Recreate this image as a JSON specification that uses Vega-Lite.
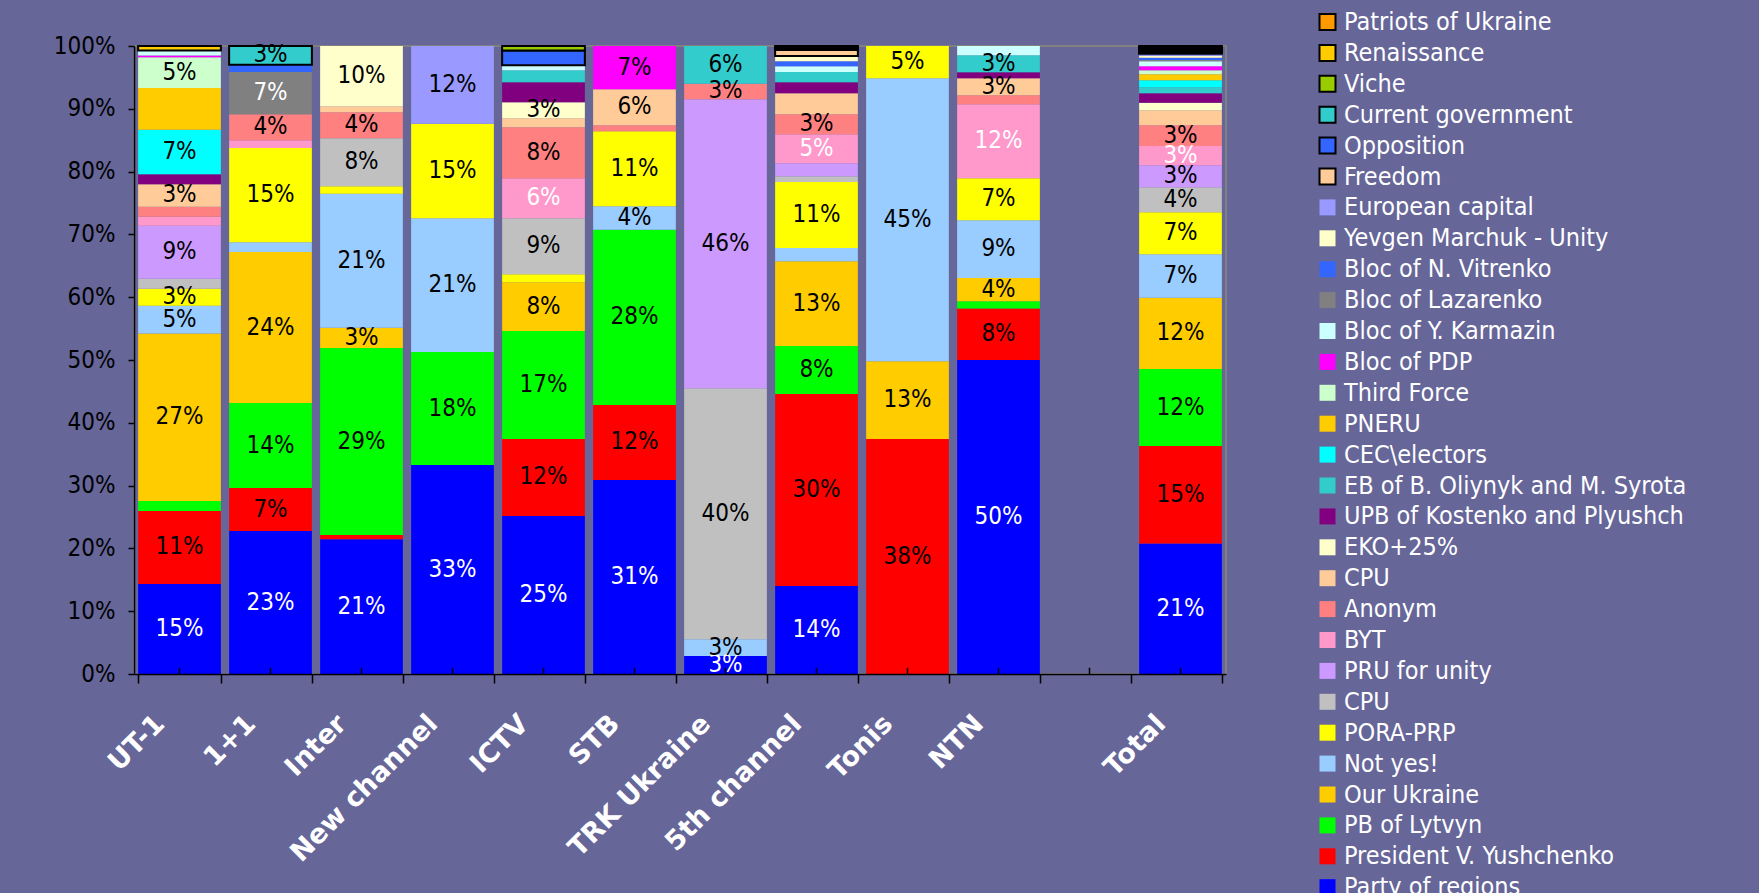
{
  "$schema": "https://vega.github.io/schema/vega-lite/v6.json",
  "autosize": "none",
  "width": 1092,
  "height": 628,
  "padding": {"left": 134, "top": 46, "right": 533, "bottom": 219},
  "background": "#666699",
  "config": {
    "view": {"stroke": "#808080", "strokeWidth": 2},
    "font": "DejaVu Sans Condensed, DejaVu Sans",
    "legend": {
      "labelColor": "white",
      "labelFontSize": 25,
      "labelFont": "DejaVu Sans Condensed, DejaVu Sans",
      "symbolType": "square",
      "symbolSize": 256,
      "symbolStrokeWidth": 2,
      "rowPadding": 4.9,
      "labelOffset": 4,
      "padding": 0,
      "labelLimit": 600
    }
  },
  "datasets": {
    "rows": [
      {"ch": "UT-1", "party": "Party of regions", "v": 14.33, "t": "15%"},
      {"ch": "UT-1", "party": "President V. Yushchenko", "v": 11.63, "t": "11%"},
      {"ch": "UT-1", "party": "PB of Lytvyn", "v": 1.59},
      {"ch": "UT-1", "party": "Our Ukraine", "v": 26.65, "t": "27%"},
      {"ch": "UT-1", "party": "Not yes!", "v": 4.45, "t": "5%"},
      {"ch": "UT-1", "party": "PORA-PRP", "v": 2.7, "t": "3%"},
      {"ch": "UT-1", "party": "CPU ", "v": 1.6},
      {"ch": "UT-1", "party": "PRU for unity", "v": 8.44, "t": "9%"},
      {"ch": "UT-1", "party": "BYT", "v": 1.44},
      {"ch": "UT-1", "party": "Anonym", "v": 1.59},
      {"ch": "UT-1", "party": "CPU", "v": 3.56, "t": "3%"},
      {"ch": "UT-1", "party": "UPB of Kostenko and Plyushch", "v": 1.59},
      {"ch": "UT-1", "party": "CEC\\electors", "v": 7.11, "t": "7%"},
      {"ch": "UT-1", "party": "PNERU", "v": 6.64},
      {"ch": "UT-1", "party": "Third Force", "v": 4.88, "t": "5%"},
      {"ch": "UT-1", "party": "Bloc of PDP", "v": 0.27},
      {"ch": "UT-1", "party": "Bloc of Y. Karmazin", "v": 0.8},
      {"ch": "UT-1", "party": "Renaissance", "v": 0.73},

      {"ch": "1+1", "party": "Party of regions", "v": 22.77, "t": "23%"},
      {"ch": "1+1", "party": "President V. Yushchenko", "v": 6.83, "t": "7%"},
      {"ch": "1+1", "party": "PB of Lytvyn", "v": 13.55, "t": "14%"},
      {"ch": "1+1", "party": "Our Ukraine", "v": 24.05, "t": "24%"},
      {"ch": "1+1", "party": "Not yes!", "v": 1.54},
      {"ch": "1+1", "party": "PORA-PRP", "v": 15.02, "t": "15%"},
      {"ch": "1+1", "party": "BYT", "v": 1.22},
      {"ch": "1+1", "party": "Anonym", "v": 4.14, "t": "4%"},
      {"ch": "1+1", "party": "Bloc of Lazarenko", "v": 6.74, "t": "7%"},
      {"ch": "1+1", "party": "Bloc of N. Vitrenko", "v": 1.17},
      {"ch": "1+1", "party": "Current government", "v": 2.97, "t": "3%"},

      {"ch": "Inter", "party": "Party of regions", "v": 21.45, "t": "21%"},
      {"ch": "Inter", "party": "President V. Yushchenko", "v": 0.68},
      {"ch": "Inter", "party": "PB of Lytvyn", "v": 29.77, "t": "29%"},
      {"ch": "Inter", "party": "Our Ukraine", "v": 3.25, "t": "3%"},
      {"ch": "Inter", "party": "Not yes!", "v": 21.34, "t": "21%"},
      {"ch": "Inter", "party": "PORA-PRP", "v": 1.16},
      {"ch": "Inter", "party": "CPU ", "v": 7.65, "t": "8%"},
      {"ch": "Inter", "party": "Anonym", "v": 4.14, "t": "4%"},
      {"ch": "Inter", "party": "CPU", "v": 0.96},
      {"ch": "Inter", "party": "Yevgen Marchuk - Unity", "v": 9.6, "t": "10%"},

      {"ch": "New channel", "party": "Party of regions", "v": 33.28, "t": "33%"},
      {"ch": "New channel", "party": "PB of Lytvyn", "v": 17.99, "t": "18%"},
      {"ch": "New channel", "party": "Not yes!", "v": 21.29, "t": "21%"},
      {"ch": "New channel", "party": "PORA-PRP", "v": 15.07, "t": "15%"},
      {"ch": "New channel", "party": "European capital", "v": 12.37, "t": "12%"},

      {"ch": "ICTV", "party": "Party of regions", "v": 25.16, "t": "25%"},
      {"ch": "ICTV", "party": "President V. Yushchenko", "v": 12.26, "t": "12%"},
      {"ch": "ICTV", "party": "PB of Lytvyn", "v": 17.2, "t": "17%"},
      {"ch": "ICTV", "party": "Our Ukraine", "v": 7.75, "t": "8%"},
      {"ch": "ICTV", "party": "PORA-PRP", "v": 1.27},
      {"ch": "ICTV", "party": "CPU ", "v": 8.92, "t": "9%"},
      {"ch": "ICTV", "party": "BYT", "v": 6.37, "t": "6%"},
      {"ch": "ICTV", "party": "Anonym", "v": 8.12, "t": "8%"},
      {"ch": "ICTV", "party": "CPU", "v": 1.43},
      {"ch": "ICTV", "party": "EKO+25%", "v": 2.55, "t": "3%"},
      {"ch": "ICTV", "party": "UPB of Kostenko and Plyushch", "v": 3.18},
      {"ch": "ICTV", "party": "EB of B. Oliynyk and M. Syrota", "v": 1.92},
      {"ch": "ICTV", "party": "Bloc of Y. Karmazin", "v": 0.79},
      {"ch": "ICTV", "party": "Opposition", "v": 2.38},
      {"ch": "ICTV", "party": "Viche", "v": 0.7},

      {"ch": "STB", "party": "Party of regions", "v": 30.9, "t": "31%"},
      {"ch": "STB", "party": "President V. Yushchenko", "v": 11.93, "t": "12%"},
      {"ch": "STB", "party": "PB of Lytvyn", "v": 27.92, "t": "28%"},
      {"ch": "STB", "party": "Not yes!", "v": 3.72, "t": "4%"},
      {"ch": "STB", "party": "PORA-PRP", "v": 11.94, "t": "11%"},
      {"ch": "STB", "party": "Anonym", "v": 0.96},
      {"ch": "STB", "party": "CPU", "v": 5.73, "t": "6%"},
      {"ch": "STB", "party": "Bloc of PDP", "v": 6.9, "t": "7%"},

      {"ch": "TRK Ukraine", "party": "Party of regions", "v": 2.87, "t": "3%"},
      {"ch": "TRK Ukraine", "party": "Not yes!", "v": 2.65, "t": "3%"},
      {"ch": "TRK Ukraine", "party": "CPU ", "v": 40.0, "t": "40%"},
      {"ch": "TRK Ukraine", "party": "PRU for unity", "v": 45.99, "t": "46%"},
      {"ch": "TRK Ukraine", "party": "Anonym", "v": 2.49, "t": "3%"},
      {"ch": "TRK Ukraine", "party": "EB of B. Oliynyk and M. Syrota", "v": 6.0, "t": "6%"},

      {"ch": "5th channel", "party": "Party of regions", "v": 14.0, "t": "14%"},
      {"ch": "5th channel", "party": "President V. Yushchenko", "v": 30.59, "t": "30%"},
      {"ch": "5th channel", "party": "PB of Lytvyn", "v": 7.64, "t": "8%"},
      {"ch": "5th channel", "party": "Our Ukraine", "v": 13.48, "t": "13%"},
      {"ch": "5th channel", "party": "Not yes!", "v": 2.12},
      {"ch": "5th channel", "party": "PORA-PRP", "v": 10.51, "t": "11%"},
      {"ch": "5th channel", "party": "CPU ", "v": 0.91},
      {"ch": "5th channel", "party": "PRU for unity", "v": 2.07},
      {"ch": "5th channel", "party": "BYT", "v": 4.61, "t": "5%"},
      {"ch": "5th channel", "party": "Anonym", "v": 3.19, "t": "3%"},
      {"ch": "5th channel", "party": "CPU", "v": 3.34},
      {"ch": "5th channel", "party": "UPB of Kostenko and Plyushch", "v": 1.75},
      {"ch": "5th channel", "party": "EB of B. Oliynyk and M. Syrota", "v": 1.65},
      {"ch": "5th channel", "party": "Bloc of Y. Karmazin", "v": 0.9},
      {"ch": "5th channel", "party": "Bloc of N. Vitrenko", "v": 0.8},
      {"ch": "5th channel", "party": "Yevgen Marchuk - Unity", "v": 0.85},
      {"ch": "5th channel", "party": "Freedom", "v": 0.95},
      {"ch": "5th channel", "party": "Opposition", "v": 0.15},
      {"ch": "5th channel", "party": "Current government", "v": 0.15},
      {"ch": "5th channel", "party": "Renaissance", "v": 0.15},
      {"ch": "5th channel", "party": "Patriots of Ukraine", "v": 0.19},

      {"ch": "Tonis", "party": "President V. Yushchenko", "v": 37.42, "t": "38%"},
      {"ch": "Tonis", "party": "Our Ukraine", "v": 12.37, "t": "13%"},
      {"ch": "Tonis", "party": "Not yes!", "v": 45.06, "t": "45%"},
      {"ch": "Tonis", "party": "PORA-PRP", "v": 5.15, "t": "5%"},

      {"ch": "NTN", "party": "Party of regions", "v": 50.0, "t": "50%"},
      {"ch": "NTN", "party": "President V. Yushchenko", "v": 8.2, "t": "8%"},
      {"ch": "NTN", "party": "PB of Lytvyn", "v": 1.14},
      {"ch": "NTN", "party": "Our Ukraine", "v": 3.72, "t": "4%"},
      {"ch": "NTN", "party": "Not yes!", "v": 9.18, "t": "9%"},
      {"ch": "NTN", "party": "PORA-PRP", "v": 6.69, "t": "7%"},
      {"ch": "NTN", "party": "BYT", "v": 11.78, "t": "12%"},
      {"ch": "NTN", "party": "Anonym", "v": 1.43},
      {"ch": "NTN", "party": "CPU", "v": 2.71, "t": "3%"},
      {"ch": "NTN", "party": "UPB of Kostenko and Plyushch", "v": 0.96},
      {"ch": "NTN", "party": "EB of B. Oliynyk and M. Syrota", "v": 2.7, "t": "3%"},
      {"ch": "NTN", "party": "Bloc of Y. Karmazin", "v": 1.49},

      {"ch": "Total", "party": "Party of regions", "v": 20.8, "t": "21%"},
      {"ch": "Total", "party": "President V. Yushchenko", "v": 15.5, "t": "15%"},
      {"ch": "Total", "party": "PB of Lytvyn", "v": 12.27, "t": "12%"},
      {"ch": "Total", "party": "Our Ukraine", "v": 11.36, "t": "12%"},
      {"ch": "Total", "party": "Not yes!", "v": 6.9, "t": "7%"},
      {"ch": "Total", "party": "PORA-PRP", "v": 6.68, "t": "7%"},
      {"ch": "Total", "party": "CPU ", "v": 3.99, "t": "4%"},
      {"ch": "Total", "party": "PRU for unity", "v": 3.5, "t": "3%"},
      {"ch": "Total", "party": "BYT", "v": 3.08, "t": "3%"},
      {"ch": "Total", "party": "Anonym", "v": 3.29, "t": "3%"},
      {"ch": "Total", "party": "CPU", "v": 2.39},
      {"ch": "Total", "party": "EKO+25%", "v": 1.22},
      {"ch": "Total", "party": "UPB of Kostenko and Plyushch", "v": 1.48},
      {"ch": "Total", "party": "EB of B. Oliynyk and M. Syrota", "v": 0.96},
      {"ch": "Total", "party": "CEC\\electors", "v": 1.11},
      {"ch": "Total", "party": "PNERU", "v": 0.96},
      {"ch": "Total", "party": "Third Force", "v": 0.64},
      {"ch": "Total", "party": "Bloc of PDP", "v": 0.63},
      {"ch": "Total", "party": "Bloc of Y. Karmazin", "v": 0.8},
      {"ch": "Total", "party": "Bloc of Lazarenko", "v": 0.2},
      {"ch": "Total", "party": "Bloc of N. Vitrenko", "v": 0.35},
      {"ch": "Total", "party": "Yevgen Marchuk - Unity", "v": 0.35},
      {"ch": "Total", "party": "European capital", "v": 0.3},
      {"ch": "Total", "party": "Freedom", "v": 0.2},
      {"ch": "Total", "party": "Opposition", "v": 0.2},
      {"ch": "Total", "party": "Current government", "v": 0.2},
      {"ch": "Total", "party": "Viche", "v": 0.2},
      {"ch": "Total", "party": "Renaissance", "v": 0.2},
      {"ch": "Total", "party": "Patriots of Ukraine", "v": 0.24}
    ],
    "cats": [
      {"ch": "UT-1"}, {"ch": "1+1"}, {"ch": "Inter"}, {"ch": "New channel"}, {"ch": "ICTV"}, {"ch": "STB"},
      {"ch": "TRK Ukraine"}, {"ch": "5th channel"}, {"ch": "Tonis"}, {"ch": "NTN"}, {"ch": " "}, {"ch": "Total"}
    ]
  },
  "encoding": {
    "x": {
      "field": "ch",
      "type": "nominal",
      "title": null,
      "sort": null,
      "scale": {
        "domain": ["UT-1", "1+1", "Inter", "New channel", "ICTV", "STB", "TRK Ukraine", "5th channel", "Tonis", "NTN", " ", "Total"],
        "paddingInner": 0.091,
        "paddingOuter": 0.0455
      },
      "axis": {
        "labelAngle": -45,
        "labelAlign": "right",
        "labelBaseline": "alphabetic",
        "labelFont": "DejaVu Sans",
        "labelFontWeight": "bold",
        "labelFontSize": 27,
        "labelColor": "white",
        "labelPadding": 42,
        "labelOffset": -14,
        "labelLimit": 400,
        "labelOverlap": false,
        "tickBand": "extent",
        "tickSize": 9,
        "tickWidth": 1.5,
        "tickColor": "black",
        "domainColor": "black",
        "domainWidth": 1.5,
        "grid": false,
        "zindex": 1
      }
    }
  },
  "layer": [
    {
      "data": {"name": "rows"},
      "transform": [
        {"calculate": "indexof(['Patriots of Ukraine','Renaissance','Viche','Current government','Opposition','Freedom','European capital','Yevgen Marchuk - Unity','Bloc of N. Vitrenko','Bloc of Lazarenko','Bloc of Y. Karmazin','Bloc of PDP','Third Force','PNERU','CEC\\\\electors','EB of B. Oliynyk and M. Syrota','UPB of Kostenko and Plyushch','EKO+25%','CPU','Anonym','BYT','PRU for unity','CPU ','PORA-PRP','Not yes!','Our Ukraine','PB of Lytvyn','President V. Yushchenko','Party of regions'], datum.party)", "as": "k"},
        {"stack": "v", "groupby": ["ch"], "sort": [{"field": "k", "order": "descending"}], "as": ["y0", "y1"]}
      ],
      "mark": {"type": "bar", "strokeWidth": 2},
      "encoding": {
        "y": {
          "field": "y0",
          "type": "quantitative",
          "title": null,
          "scale": {"domain": [0, 100], "nice": false},
          "axis": {
            "values": [0, 10, 20, 30, 40, 50, 60, 70, 80, 90, 100],
            "labelExpr": "datum.value + '%'",
            "labelFontSize": 24,
            "labelColor": "black",
            "labelPadding": 13,
            "tickSize": 6,
            "tickWidth": 1.5,
            "tickColor": "black",
            "domainColor": "black",
            "domainWidth": 1.5,
            "grid": false,
            "zindex": 1
          }
        },
        "y2": {"field": "y1"},
        "color": {
          "field": "party",
          "type": "nominal",
          "title": null,
          "scale": {
            "domain": ["Patriots of Ukraine", "Renaissance", "Viche", "Current government", "Opposition", "Freedom", "European capital", "Yevgen Marchuk - Unity", "Bloc of N. Vitrenko", "Bloc of Lazarenko", "Bloc of Y. Karmazin", "Bloc of PDP", "Third Force", "PNERU", "CEC\\electors", "EB of B. Oliynyk and M. Syrota", "UPB of Kostenko and Plyushch", "EKO+25%", "CPU", "Anonym", "BYT", "PRU for unity", "CPU ", "PORA-PRP", "Not yes!", "Our Ukraine", "PB of Lytvyn", "President V. Yushchenko", "Party of regions"],
            "range": ["#FF9900", "#FFCC00", "#99CC00", "#33CCCC", "#3366FF", "#FFCC99", "#9999FF", "#FFFFCC", "#3366FF", "#808080", "#CCFFFF", "#FF00FF", "#CCFFCC", "#FFCC00", "#00FFFF", "#33CCCC", "#800080", "#FFFFCC", "#FFCC99", "#FF8080", "#FF99CC", "#CC99FF", "#C0C0C0", "#FFFF00", "#99CCFF", "#FFCC00", "#00FF00", "#FF0000", "#0000FF"]
          },
          "legend": {"orient": "none", "legendX": 1181, "legendY": -36.5, "title": null}
        },
        "stroke": {
          "field": "party",
          "type": "nominal",
          "title": null,
          "scale": {
            "domain": ["Patriots of Ukraine", "Renaissance", "Viche", "Current government", "Opposition", "Freedom", "European capital", "Yevgen Marchuk - Unity", "Bloc of N. Vitrenko", "Bloc of Lazarenko", "Bloc of Y. Karmazin", "Bloc of PDP", "Third Force", "PNERU", "CEC\\electors", "EB of B. Oliynyk and M. Syrota", "UPB of Kostenko and Plyushch", "EKO+25%", "CPU", "Anonym", "BYT", "PRU for unity", "CPU ", "PORA-PRP", "Not yes!", "Our Ukraine", "PB of Lytvyn", "President V. Yushchenko", "Party of regions"],
            "range": ["black", "black", "black", "black", "black", "black", "transparent", "transparent", "transparent", "transparent", "transparent", "transparent", "transparent", "transparent", "transparent", "transparent", "transparent", "transparent", "transparent", "transparent", "transparent", "transparent", "transparent", "transparent", "transparent", "transparent", "transparent", "transparent", "transparent"]
          },
          "legend": {"orient": "none", "legendX": 1181, "legendY": -36.5, "title": null}
        }
      }
    },
    {
      "data": {"name": "rows"},
      "transform": [
        {"calculate": "indexof(['Patriots of Ukraine','Renaissance','Viche','Current government','Opposition','Freedom','European capital','Yevgen Marchuk - Unity','Bloc of N. Vitrenko','Bloc of Lazarenko','Bloc of Y. Karmazin','Bloc of PDP','Third Force','PNERU','CEC\\\\electors','EB of B. Oliynyk and M. Syrota','UPB of Kostenko and Plyushch','EKO+25%','CPU','Anonym','BYT','PRU for unity','CPU ','PORA-PRP','Not yes!','Our Ukraine','PB of Lytvyn','President V. Yushchenko','Party of regions'], datum.party)", "as": "k"},
        {"stack": "v", "groupby": ["ch"], "sort": [{"field": "k", "order": "descending"}], "as": ["y0", "y1"]},
        {"filter": "isValid(datum.t)"},
        {"calculate": "(datum.y0 + datum.y1) / 2", "as": "ym"}
      ],
      "mark": {"type": "text", "fontSize": 24, "font": "DejaVu Sans Condensed, DejaVu Sans", "baseline": "middle", "align": "center"},
      "encoding": {
        "y": {"field": "ym", "type": "quantitative"},
        "text": {"field": "t"},
        "color": {
          "condition": {"test": "datum.party === 'Party of regions' || datum.party === 'BYT' || datum.party === 'Bloc of Lazarenko'", "value": "white"},
          "value": "black"
        }
      }
    },
    {
      "data": {"name": "cats"},
      "mark": {"type": "rule", "color": "black", "strokeWidth": 1.5},
      "encoding": {
        "y": {"datum": 0},
        "y2": {"datum": 1}
      }
    }
  ]
}
